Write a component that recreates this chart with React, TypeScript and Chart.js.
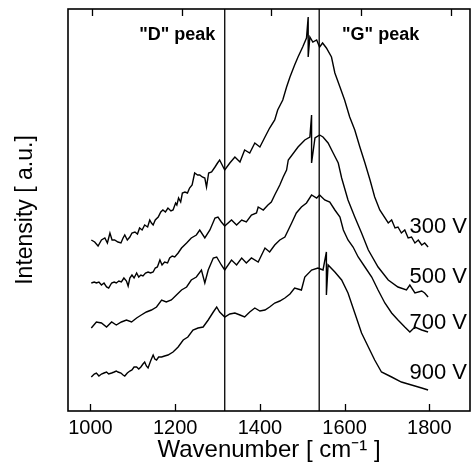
import React, { useEffect, useRef } from 'react';
import { Chart, registerables } from 'chart.js';

Chart.register(...registerables);

// ---- data ----
const xTickValues = [1000, 1200, 1400, 1600, 1800];
const seriesNames = ['300 V', '500 V', '700 V', '900 V'];
const peakNames = ['"D" peak', '"G" peak'];
const peakPositions = [1317, 1540];

const s300: number[][] = [
  [1002, 171], [1010, 169], [1018, 165], [1026, 171], [1034, 173], [1040, 168], [1046, 178], [1051, 171],
  [1057, 171], [1065, 169], [1072, 168], [1077, 173], [1081, 176], [1087, 171], [1093, 174], [1098, 178],
  [1105, 179], [1111, 177], [1116, 183], [1122, 181], [1128, 186], [1135, 184], [1140, 191], [1144, 188],
  [1148, 186], [1153, 191], [1160, 194], [1166, 199], [1171, 201], [1177, 199], [1183, 203], [1190, 200],
  [1195, 201], [1201, 208], [1204, 206], [1208, 213], [1213, 209], [1217, 218], [1223, 219], [1229, 218],
  [1234, 223], [1240, 226], [1246, 238], [1253, 236], [1258, 236], [1264, 234], [1270, 233], [1274, 224],
  [1279, 238], [1286, 239], [1294, 244], [1300, 248], [1305, 251], [1311, 246], [1317, 241], [1329, 248],
  [1341, 254], [1353, 249], [1364, 261], [1376, 258], [1388, 268], [1400, 264], [1412, 274], [1423, 283],
  [1435, 291], [1442, 301], [1454, 311], [1463, 324], [1471, 334], [1482, 346], [1490, 354], [1501, 364],
  [1510, 373], [1514, 394], [1514, 354], [1518, 374], [1525, 369], [1534, 371], [1541, 364], [1548, 368],
  [1557, 363], [1569, 354], [1577, 338], [1589, 324], [1600, 311], [1612, 294], [1624, 281], [1636, 264],
  [1648, 248], [1660, 231], [1671, 214], [1683, 201], [1703, 188], [1711, 191], [1719, 183], [1726, 184],
  [1734, 178], [1742, 181], [1750, 173], [1758, 174], [1766, 168], [1774, 171], [1782, 166], [1789, 168],
  [1797, 164],
];

const s500: number[][] = [
  [1002, 128], [1009, 129], [1014, 128], [1020, 129], [1026, 126], [1032, 128], [1038, 124], [1043, 123],
  [1050, 128], [1056, 129], [1061, 128], [1067, 130], [1073, 129], [1079, 133], [1085, 130], [1089, 125],
  [1093, 133], [1098, 136], [1103, 133], [1109, 138], [1114, 134], [1119, 136], [1124, 135], [1130, 138],
  [1136, 139], [1142, 138], [1148, 139], [1153, 143], [1158, 144], [1164, 151], [1169, 146], [1175, 149],
  [1182, 148], [1187, 153], [1193, 155], [1199, 154], [1207, 158], [1215, 163], [1227, 168], [1238, 173],
  [1250, 176], [1258, 181], [1270, 173], [1282, 181], [1294, 193], [1301, 194], [1309, 189], [1317, 185],
  [1333, 191], [1345, 186], [1357, 191], [1368, 189], [1380, 196], [1392, 198], [1396, 204], [1408, 201],
  [1419, 206], [1427, 209], [1435, 216], [1447, 226], [1455, 234], [1463, 241], [1467, 251], [1490, 264],
  [1506, 271], [1518, 274], [1522, 296], [1522, 248], [1530, 273], [1541, 276], [1549, 274], [1561, 268],
  [1573, 258], [1585, 248], [1593, 233], [1608, 211], [1624, 194], [1640, 178], [1656, 161], [1679, 144],
  [1703, 131], [1726, 124], [1746, 121], [1754, 126], [1766, 118], [1782, 120], [1789, 118], [1797, 114],
];

const s700: number[][] = [
  [1002, 83], [1014, 89], [1026, 88], [1038, 84], [1050, 89], [1061, 86], [1073, 89], [1085, 91],
  [1097, 89], [1109, 93], [1120, 96], [1132, 99], [1144, 101], [1156, 104], [1168, 111], [1179, 109],
  [1191, 111], [1203, 116], [1215, 121], [1227, 124], [1238, 131], [1250, 134], [1262, 141], [1270, 128],
  [1278, 141], [1290, 153], [1298, 154], [1309, 146], [1317, 141], [1333, 151], [1345, 146], [1357, 153],
  [1368, 148], [1380, 153], [1396, 149], [1412, 163], [1423, 159], [1435, 166], [1447, 171], [1459, 174],
  [1475, 188], [1486, 198], [1498, 204], [1510, 208], [1522, 216], [1534, 213], [1541, 216], [1553, 211],
  [1565, 209], [1577, 201], [1589, 194], [1597, 181], [1608, 171], [1620, 164], [1632, 154], [1648, 144],
  [1664, 134], [1679, 121], [1695, 108], [1711, 98], [1726, 91], [1742, 84], [1754, 79], [1766, 84],
  [1782, 81], [1797, 79],
];

const s900: number[][] = [
  [1002, 34], [1009, 37], [1014, 38], [1020, 35], [1026, 37], [1032, 38], [1038, 39], [1043, 37],
  [1050, 38], [1056, 39], [1061, 40], [1065, 39], [1072, 38], [1077, 36], [1081, 35], [1087, 38],
  [1093, 40], [1098, 41], [1103, 44], [1109, 44], [1114, 42], [1119, 44], [1124, 47], [1128, 49],
  [1132, 45], [1136, 43], [1142, 50], [1148, 56], [1152, 52], [1156, 51], [1161, 54], [1168, 54],
  [1175, 55], [1183, 56], [1195, 59], [1207, 64], [1219, 71], [1230, 74], [1242, 81], [1254, 83],
  [1266, 84], [1278, 91], [1290, 99], [1298, 104], [1305, 99], [1317, 94], [1329, 97], [1341, 98],
  [1353, 96], [1364, 94], [1376, 99], [1388, 103], [1400, 100], [1412, 101], [1423, 104], [1435, 108],
  [1447, 110], [1459, 113], [1471, 117], [1482, 123], [1498, 121], [1506, 134], [1522, 141], [1537, 143],
  [1549, 141], [1557, 159], [1557, 116], [1561, 146], [1577, 139], [1593, 131], [1608, 118], [1624, 98],
  [1640, 78], [1656, 64], [1671, 51], [1687, 39], [1711, 34], [1734, 29], [1758, 26], [1782, 23],
  [1797, 21],
];

const seriesData = [s300, s500, s700, s900];

// ---- axis ranges & annotation placement ----
const X_MIN = 947;
const X_MAX = 1896;
const XTOP_MIN = 947;
const XTOP_MAX = 1842;
const Y_MIN = 0;
const Y_MAX = 402;
const peakLabelX = [1205, 1685];
const peakLabelY = 371;
const seriesLabelY = [184, 134, 88, 38];

const FONT = '"Liberation Sans", Arial, Helvetica, sans-serif';

const decor = {
  id: 'decor',
  afterDatasetsDraw(chart: any) {
    const { ctx, chartArea: a, scales } = chart;
    ctx.save();
    ctx.strokeStyle = '#000';
    ctx.lineWidth = 1.6;
    ctx.strokeRect(a.left, a.top, a.right - a.left, a.bottom - a.top);
    ctx.lineWidth = 1.3;
    ctx.beginPath();
    for (const t of scales.x.ticks) {
      const p = Math.round(scales.x.getPixelForValue(t.value)) + 0.5;
      ctx.moveTo(p, a.bottom);
      ctx.lineTo(p, a.bottom - 7);
    }
    for (const t of scales.xTop.ticks) {
      const p = Math.round(scales.xTop.getPixelForValue(t.value)) + 0.5;
      ctx.moveTo(p, a.top);
      ctx.lineTo(p, a.top + 7);
    }
    ctx.stroke();

    ctx.fillStyle = '#000';
    ctx.font = `bold 18px ${FONT}`;
    ctx.textAlign = 'center';
    ctx.textBaseline = 'alphabetic';
    peakNames.forEach((n, i) => {
      ctx.fillText(n, scales.x.getPixelForValue(peakLabelX[i]), scales.y.getPixelForValue(peakLabelY));
    });

    ctx.font = `22px ${FONT}`;
    ctx.textAlign = 'right';
    ctx.textBaseline = 'middle';
    seriesNames.forEach((n, i) => {
      ctx.fillText(n, a.right - 3, scales.y.getPixelForValue(seriesLabelY[i]));
    });
    ctx.restore();
  },
};

export default function App() {
  const ref = useRef<HTMLCanvasElement | null>(null);

  useEffect(() => {
    if (!ref.current) return;
    const datasets: any[] = seriesData.map((s, i) => ({
      label: seriesNames[i],
      data: s.map(([x, y]) => ({ x, y })),
      borderColor: '#000',
      borderWidth: 1.4,
      pointRadius: 0,
      fill: false,
      tension: 0,
    }));
    peakPositions.forEach((p, i) => {
      datasets.push({
        label: peakNames[i],
        data: [{ x: p, y: Y_MIN }, { x: p, y: Y_MAX }],
        borderColor: '#000',
        borderWidth: 1.3,
        pointRadius: 0,
        fill: false,
      });
    });

    const chart = new Chart(ref.current, {
      type: 'line',
      data: { datasets },
      options: {
        animation: false,
        responsive: false,
        layout: { padding: { top: 9, right: 3, left: 0, bottom: 0 } },
        plugins: { legend: { display: false }, tooltip: { enabled: false } },
        scales: {
          x: {
            type: 'linear',
            position: 'bottom',
            min: X_MIN,
            max: X_MAX,
            afterBuildTicks: (s: any) => { s.ticks = xTickValues.map((v) => ({ value: v })); },
            afterFit: (s: any) => { s.height = 61; },
            grid: { display: false, drawTicks: false },
            border: { display: false },
            ticks: {
              color: '#000',
              padding: 5,
              font: { family: FONT, size: 20 },
              callback: (v: any) => String(v),
            },
            title: {
              display: true,
              text: 'Wavenumber [ cm⁻¹ ]',
              color: '#000',
              font: { family: FONT, size: 24 },
              padding: { top: 0, bottom: 7 },
            },
          },
          xTop: {
            type: 'linear',
            position: 'top',
            min: XTOP_MIN,
            max: XTOP_MAX,
            afterBuildTicks: (s: any) => { s.ticks = xTickValues.map((v) => ({ value: v })); },
            afterFit: (s: any) => { s.height = 0; },
            grid: { display: false, drawTicks: false },
            border: { display: false },
            ticks: { display: false },
          },
          y: {
            type: 'linear',
            min: Y_MIN,
            max: Y_MAX,
            afterFit: (s: any) => { s.width = 68; },
            grid: { display: false, drawTicks: false },
            border: { display: false },
            ticks: { display: false },
            title: {
              display: true,
              text: 'Intensity [ a.u.]',
              color: '#000',
              font: { family: FONT, size: 23 },
              padding: { top: 12, bottom: 0 },
            },
          },
        },
      },
      plugins: [decor],
    } as any);
    return () => chart.destroy();
  }, []);

  return (
    <div style={{ position: 'fixed', left: 0, top: 0, width: 473, height: 472, background: '#fff' }}>
      <canvas ref={ref} width={473} height={472} style={{ display: 'block' }} />
    </div>
  );
}
